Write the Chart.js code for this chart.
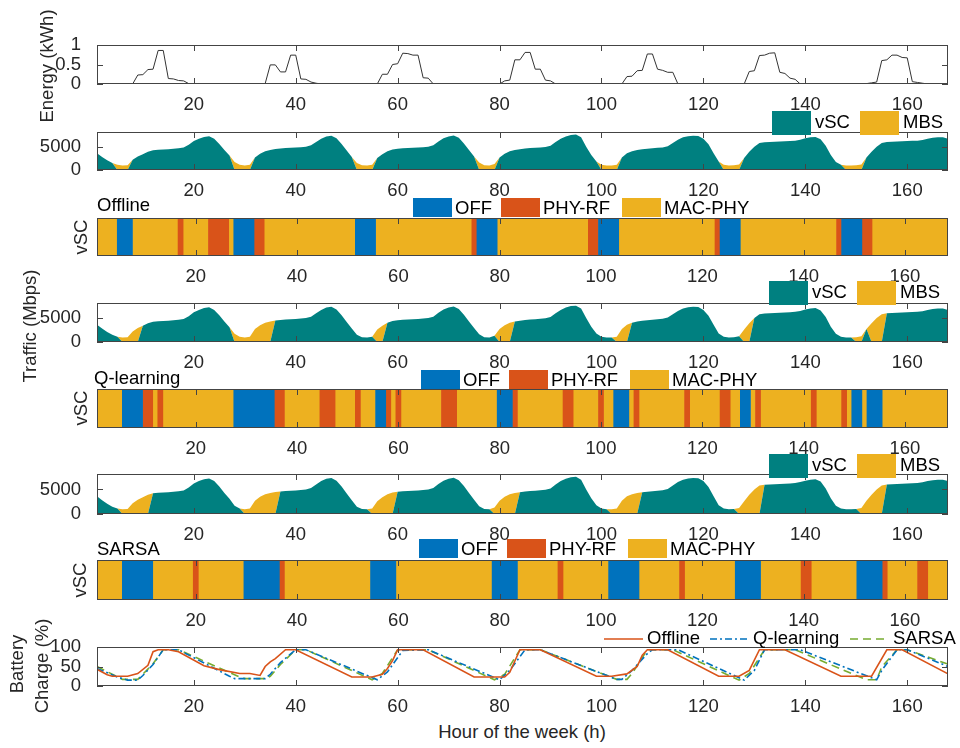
<!DOCTYPE html>
<html>
<head>
<meta charset="utf-8">
<title>vSC operation over one week</title>
<script src="https://cdn.jsdelivr.net/npm/chart.js@4.4.1/dist/chart.umd.min.js"></script>
<style>
  body { margin: 0; background: #fff; }
  #page { position: relative; width: 960px; height: 748px; overflow: hidden; background: #fff;
          font-family: "Liberation Sans", Arial, sans-serif; }
  #page canvas { position: absolute; left: 0; }
  .lbl { position: absolute; font-size: 18.5px; line-height: 1; color: #262626; white-space: nowrap; }
</style>
</head>
<body>
<div id="page"></div>
<script>
// ---- data ----
const xTicks = [20, 40, 60, 80, 100, 120, 140, 160];
const energyTicks = [0, 0.5, 1];
const trafficTicks = [0, 5000];
const batteryTicks = [0, 50, 100];
const stateNames = ['OFF', 'PHY-RF', 'MAC-PHY'];
const servers = ['vSC', 'MBS'];
const methods = ['Offline', 'Q-learning', 'SARSA'];

// harvested energy per hour (kWh), hours 1..168
const energy = [
  0, 0, 0, 0, 0, 0, 0, 0, 0.23, 0.24, 0.37, 0.38, 0.86, 0.86, 0.14, 0.13, 0.09, 0.08, 0.01, 0, 0, 0, 0, 0,
  0, 0, 0, 0, 0, 0, 0, 0, 0, 0.01, 0.49, 0.49, 0.31, 0.31, 0.74, 0.74, 0.13, 0.12, 0.05, 0.02, 0, 0, 0, 0,
  0, 0, 0, 0, 0, 0, 0, 0, 0.25, 0.25, 0.5, 0.52, 0.79, 0.78, 0.74, 0.74, 0.16, 0.15, 0, 0, 0, 0, 0, 0,
  0, 0, 0, 0, 0, 0, 0, 0, 0.08, 0.1, 0.62, 0.62, 0.81, 0.81, 0.38, 0.38, 0.1, 0.08, 0, 0, 0, 0, 0, 0,
  0, 0, 0, 0, 0, 0, 0, 0, 0.19, 0.2, 0.34, 0.35, 0.77, 0.77, 0.38, 0.35, 0.3, 0.3, 0, 0, 0, 0, 0, 0,
  0, 0, 0, 0, 0, 0, 0, 0, 0.32, 0.34, 0.73, 0.74, 0.79, 0.8, 0.3, 0.27, 0.15, 0.12, 0, 0, 0, 0, 0, 0,
  0, 0, 0, 0, 0, 0, 0, 0.01, 0.03, 0.05, 0.6, 0.62, 0.74, 0.74, 0.68, 0.67, 0.06, 0.04, 0.02, 0, 0, 0, 0, 0
];

// traffic demand per hour (Mbps)
const traffic = [
  3600, 2800, 2100, 1500, 1100, 950, 1000, 2200, 2900, 3400, 3900, 4250, 4350, 4400, 4450, 4550, 4650, 4800, 5400, 6200, 6700, 7100, 7250, 6700,
  5600, 4300, 3100, 1700, 1100, 950, 1100, 2700, 3500, 4000, 4300, 4500, 4600, 4700, 4750, 4800, 4900, 5000, 5300, 6000, 6700, 7200, 7350, 6800,
  5600, 4200, 2800, 1500, 1000, 950, 1100, 2600, 3400, 4000, 4400, 4550, 4650, 4700, 4750, 4800, 4900, 5000, 5300, 6100, 6800, 7200, 7400, 6900,
  5700, 4300, 2900, 1600, 1000, 950, 1300, 2700, 3500, 4000, 4300, 4450, 4600, 4700, 4750, 4850, 4950, 5200, 6000, 6700, 7200, 7500, 7600, 7000,
  5000, 3200, 1800, 1100, 950, 950, 1100, 2700, 3600, 4000, 4300, 4450, 4550, 4650, 4750, 4850, 5100, 5800, 6500, 7000, 7250, 7350, 7300, 6700,
  5500, 3600, 1800, 1100, 950, 1000, 1200, 2600, 3900, 5000, 5800, 5950, 6000, 6050, 6100, 6150, 6200, 6300, 6500, 6800, 7000, 7100, 6600, 5200,
  3200, 1700, 1100, 950, 950, 1000, 1200, 2700, 3900, 5000, 5800, 6000, 6050, 6100, 6150, 6200, 6250, 6300, 6450, 6700, 6900, 7000, 7000, 6700
];

// vSC state runs: [state index, number of hours]  (0 OFF, 1 PHY-RF, 2 MAC-PHY)
const offlineRuns = [[2,4],[0,3],[2,9],[1,1],[2,5],[1,4],[2,1],[0,4],[1,2],[2,18],[0,4],[2,19],[1,1],[0,4],
  [2,18],[1,2],[0,4],[2,19],[1,1],[0,4],[2,19],[1,1],[0,4],[1,2],[2,15]];
const qRuns = [[2,5],[0,4],[1,2],[2,1],[1,1],[2,14],[0,8],[1,2],[2,7],[1,3],[2,4],[1,1],[2,3],[0,2],[1,1],[2,1],
  [1,1],[2,8],[1,3],[2,8],[0,3],[1,1],[2,9],[1,2],[2,5],[1,1],[2,2],[0,3],[2,1],[1,1],[2,9],[1,1],[2,6],[1,2],
  [2,2],[0,2],[2,1],[1,1],[2,10],[1,1],[2,5],[1,1],[2,1],[0,2],[2,1],[0,3],[2,13]];
const sarsaRuns = [[2,5],[0,6],[2,8],[1,1],[2,9],[0,7],[1,1],[2,17],[0,5],[2,19],[0,5],[2,8],[1,1],[2,9],[0,6],
  [2,8],[1,1],[2,10],[0,5],[2,8],[1,2],[2,9],[0,5],[1,1],[2,6],[1,2],[2,4]];

// battery charge (%) at [hour, value]
const offlineBattery = [[1,43],[3,29],[4,25],[7,25],[9,32],[11,53],[12,88],[13,93],[15,93],[17,88],[22,52],[25,42],
  [29,32],[31,32],[33,27],[34,50],[35,62],[36,70],[38,93],[40,93],[51,23],[55,23],[57,30],[58,45],[59,65],[60,93],
  [65,93],[75,23],[81,23],[82,35],[84,93],[88,93],[99,25],[102,25],[105,31],[107,50],[108,79],[109,93],[113,93],
  [123,25],[127,25],[129,40],[131,93],[136,93],[147,25],[153,25],[156,93],[159,93],[168,31]];
const qBattery = [[1,45],[5,23],[7,15],[9,15],[10,27],[12,55],[14,93],[17,93],[27,25],[28,19],[34,19],[35,30],
  [37,60],[40,93],[42,93],[56,16],[58,36],[61,91],[66,93],[80,16],[82,40],[85,93],[88,93],[103,17],[104,17],
  [106,40],[109,83],[110,93],[115,93],[128,15],[130,40],[132,93],[139,93],[154,16],[155,40],[158,93],[160,93],[168,50]];
const sarsaBattery = [[1,50],[6,17],[9,17],[12,57],[14,93],[17,93],[29,23],[30,19],[34,19],[35,25],[37,55],[40,93],
  [42,93],[55,16],[57,32],[60,93],[66,93],[79,16],[81,30],[84,93],[88,93],[103,17],[105,17],[106,32],[109,93],
  [114,93],[127,15],[129,32],[132,93],[138,93],[152,16],[154,16],[155,49],[158,93],[160,93],[168,56]];

// ---- look ----
const FONT = '"Liberation Sans", Arial, sans-serif';
const FONT_SIZE = 18.5;
const INK = '#262626';
const TEAL = '#008080', GOLD = '#EDB120', BLUE = '#0072BD', RED = '#D95319', GREEN = '#77AC30';
const stateColors = [BLUE, RED, GOLD];
const HEAD = 40, FOOT = 32, YAXIS_W = 60, LEFT = 97, RIGHT = 948, TICK = 6;

Chart.defaults.font.family = FONT;
Chart.defaults.font.size = FONT_SIZE;
Chart.defaults.color = INK;
Chart.defaults.animation = false;

const page = document.getElementById('page');

function addCanvas(top, bottom) {
  const c = document.createElement('canvas');
  c.width = 960;
  c.height = HEAD + (bottom - top) + FOOT;
  c.style.top = (top - HEAD) + 'px';
  page.appendChild(c);
  return c;
}

function addLabel(text, cx, cy, rotate) {
  const d = document.createElement('div');
  d.className = 'lbl';
  d.textContent = text;
  d.style.left = cx + 'px';
  d.style.top = cy + 'px';
  d.style.transform = 'translate(-50%,-50%)' + (rotate ? ' rotate(-90deg)' : '');
  page.appendChild(d);
}

function expandRuns(runs) {
  const out = [];
  runs.forEach(([s, n]) => { for (let i = 0; i < n; i++) out.push(s); });
  return out;
}

function runSegments(runs) {
  const segs = [];
  let h = 1;
  runs.forEach(([s, n]) => { segs.push({ state: s, from: h - 0.5, to: h + n - 0.5 }); h += n; });
  return segs;
}

// box around the plot area with inward ticks, drawn over the data like MATLAB
const framePlugin = {
  id: 'frame',
  afterDatasetsDraw(chart) {
    const { ctx, chartArea: a } = chart;
    const xs = chart.scales.x, ys = chart.scales.y;
    ctx.save();
    ctx.strokeStyle = '#444';
    ctx.lineWidth = 1;
    ctx.beginPath();
    xs.ticks.forEach(t => {
      const px = Math.round(xs.getPixelForValue(t.value)) + 0.5;
      ctx.moveTo(px, a.bottom); ctx.lineTo(px, a.bottom - TICK);
      ctx.moveTo(px, a.top); ctx.lineTo(px, a.top + TICK);
    });
    if (ys.type === 'linear') {
      ys.ticks.forEach(t => {
        const py = Math.round(ys.getPixelForValue(t.value)) + 0.5;
        ctx.moveTo(a.left, py); ctx.lineTo(a.left + TICK, py);
        ctx.moveTo(a.right, py); ctx.lineTo(a.right - TICK, py);
      });
    }
    ctx.stroke();
    ctx.strokeRect(Math.round(a.left) + 0.5, Math.round(a.top) + 0.5, Math.round(a.width) - 1, Math.round(a.height) - 1);
    ctx.restore();
  }
};

// legend patches, sample lines and panel titles, placed relative to the plot top
function keyPlugin(items) {
  return {
    id: 'key',
    afterDraw(chart) {
      const ctx = chart.ctx, top = chart.chartArea.top;
      ctx.save();
      ctx.font = FONT_SIZE + 'px ' + FONT;
      ctx.textBaseline = 'middle';
      items.forEach(it => {
        if (it.box) {
          ctx.fillStyle = it.color;
          ctx.fillRect(it.x, top + it.y, it.w, it.h);
        }
        if (it.line) {
          ctx.strokeStyle = it.color;
          ctx.lineWidth = 1.6;
          ctx.setLineDash(it.dash || []);
          ctx.beginPath();
          ctx.moveTo(it.x, top + it.y);
          ctx.lineTo(it.x + it.w, top + it.y);
          ctx.stroke();
          ctx.setLineDash([]);
        }
        if (it.text) {
          ctx.fillStyle = '#000';
          ctx.fillText(it.text, it.tx, top + it.ty);
        }
      });
      ctx.restore();
    }
  };
}

function xScale(min, max) {
  return {
    type: 'linear', min, max, bounds: 'data',
    afterBuildTicks: s => { s.ticks = xTicks.map(v => ({ value: v })); },
    afterFit: s => { s.height = FOOT; },
    grid: { display: false }, border: { display: false },
    ticks: { autoSkip: false, maxRotation: 0, padding: 2, color: INK, callback: v => String(v) }
  };
}

function yScale(min, max, ticks, stacked) {
  return {
    type: 'linear', min, max, bounds: 'data', stacked: !!stacked,
    afterBuildTicks: s => { s.ticks = ticks.map(v => ({ value: v })); },
    afterFit: s => { s.width = YAXIS_W; },
    grid: { display: false }, border: { display: false },
    ticks: { autoSkip: false, padding: 8, color: INK, callback: v => String(v) }
  };
}

function baseOptions(scales) {
  return {
    responsive: false,
    animation: false,
    layout: { padding: { top: HEAD, left: LEFT - YAXIS_W, right: 960 - RIGHT, bottom: 0 } },
    plugins: { legend: { display: false }, tooltip: { enabled: false } },
    scales
  };
}

// ---- panels ----
function energyPanel(top, bottom) {
  new Chart(addCanvas(top, bottom), {
    type: 'line',
    data: {
      datasets: [{
        data: energy.map((v, i) => ({ x: i + 1, y: v })),
        borderColor: '#333', borderWidth: 1, pointRadius: 0, tension: 0
      }]
    },
    options: baseOptions({ x: xScale(1, 168), y: yScale(0, 1, energyTicks) }),
    plugins: [framePlugin]
  });
}

function trafficPanel(top, bottom, runs, keyX, keyY) {
  const states = expandRuns(runs);
  const vsc = traffic.map((v, i) => ({ x: i + 1, y: states[i] === 0 ? 0 : v }));
  const mbs = traffic.map((v, i) => ({ x: i + 1, y: states[i] === 0 ? v : 0 }));
  const key = [
    { box: true, color: TEAL, x: keyX, y: keyY, w: 39, h: 24, text: servers[0], tx: keyX + 43, ty: keyY + 12 },
    { box: true, color: GOLD, x: keyX + 88, y: keyY, w: 39, h: 24, text: servers[1], tx: keyX + 131, ty: keyY + 12 }
  ];
  new Chart(addCanvas(top, bottom), {
    type: 'line',
    data: {
      datasets: [
        { label: servers[0], data: vsc, fill: 'origin', backgroundColor: TEAL, borderWidth: 0, pointRadius: 0 },
        { label: servers[1], data: mbs, fill: '-1', backgroundColor: GOLD, borderWidth: 0, pointRadius: 0 }
      ]
    },
    options: baseOptions({ x: xScale(1, 168), y: yScale(0, 8150, trafficTicks, true) }),
    plugins: [framePlugin, keyPlugin(key)]
  });
}

function statePanel(top, bottom, runs, title, titleX, titleY, keyX, keyY) {
  const segs = runSegments(runs);
  const offs = [0, 88, 209];
  const key = [{ text: title, tx: titleX, ty: titleY }];
  stateNames.forEach((name, k) => {
    key.push({ box: true, color: stateColors[k], x: keyX + offs[k], y: keyY, w: 39, h: 19, text: name,
               tx: keyX + offs[k] + 42, ty: keyY + 10.5 });
  });
  const datasets = stateNames.map((name, k) => ({
    label: name,
    data: segs.filter(s => s.state === k).map(s => ({ x: [s.from, s.to], y: 'vSC' })),
    backgroundColor: stateColors[k],
    borderWidth: 0, grouped: false, barPercentage: 1, categoryPercentage: 1
  }));
  const scales = {
    x: xScale(0.5, 168.5),
    y: { type: 'category', labels: ['vSC'], afterFit: s => { s.width = YAXIS_W; },
         grid: { display: false }, border: { display: false }, ticks: { display: false } }
  };
  new Chart(addCanvas(top, bottom), {
    type: 'bar',
    data: { labels: ['vSC'], datasets },
    options: Object.assign(baseOptions(scales), { indexAxis: 'y' }),
    plugins: [framePlugin, keyPlugin(key)]
  });
}

function batteryPanel(top, bottom) {
  const series = [offlineBattery, qBattery, sarsaBattery];
  const colors = [RED, BLUE, GREEN];
  const dashes = [[], [7, 3, 2, 3], [8, 5]];
  const keyX = [604, 710, 850];
  const key = methods.map((m, k) => ({ line: true, color: colors[k], dash: dashes[k], x: keyX[k], y: -8, w: 39,
                                       text: m, tx: keyX[k] + 43, ty: -8 }));
  new Chart(addCanvas(top, bottom), {
    type: 'line',
    data: {
      datasets: series.map((s, k) => ({
        label: methods[k],
        data: s.map(([h, v]) => ({ x: h, y: v })),
        borderColor: colors[k], borderWidth: 1.6, borderDash: dashes[k], pointRadius: 0, tension: 0
      }))
    },
    options: baseOptions({ x: xScale(1, 168), y: yScale(0, 100, batteryTicks) }),
    plugins: [framePlugin, keyPlugin(key)]
  });
}

energyPanel(45, 84);
trafficPanel(132, 170, offlineRuns, 772, -21);
statePanel(218, 256, offlineRuns, methods[0], 97, -12, 413, -20);
trafficPanel(303, 342, qRuns, 769, -22);
statePanel(389, 428, qRuns, methods[1], 94, -10, 421, -19);
trafficPanel(474, 514, sarsaRuns, 769, -20);
statePanel(560, 600, sarsaRuns, methods[2], 97, -10, 419, -21);
batteryPanel(647, 686);

// axis titles
addLabel('Energy (kWh)', 47, 66, true);
addLabel('Traffic (Mbps)', 30, 326, true);
addLabel('vSC', 81, 237, true);
addLabel('vSC', 81, 408, true);
addLabel('vSC', 80, 580, true);
addLabel('Battery', 17, 664, true);
addLabel('Charge (%)', 42, 666, true);
addLabel('Hour of the week (h)', 522, 732, false);
</script>
</body>
</html>
